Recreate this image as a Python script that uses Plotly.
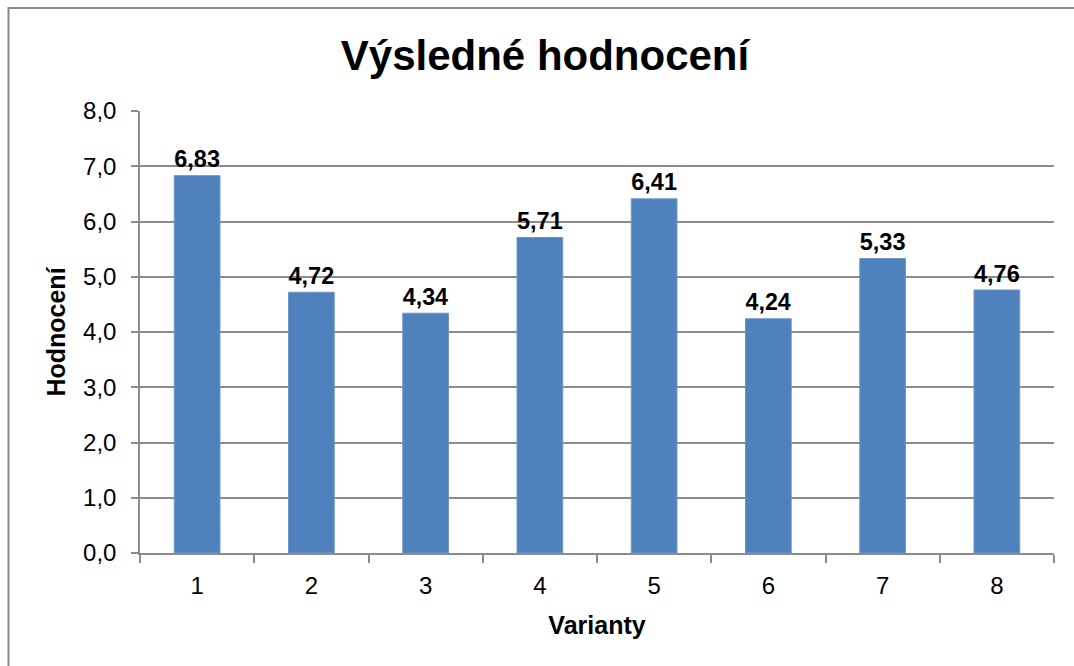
import plotly.graph_objects as go

# Evaluated variants and their final scores
varianty = ["1", "2", "3", "4", "5", "6", "7", "8"]
hodnoceni = [6.83, 4.72, 4.34, 5.71, 6.41, 4.24, 5.33, 4.76]
y_ticks = [0, 1, 2, 3, 4, 5, 6, 7, 8]
y_tick_labels = ["0,0", "1,0", "2,0", "3,0", "4,0", "5,0", "6,0", "7,0", "8,0"]

W, H = 1074, 666
L, R, T, B = 140, 20, 110.5, 113
pw, ph = W - L - R, H - T - B

font = "Liberation Sans, Arial, sans-serif"
grid = "#8c8c8c"

fig = go.Figure(
    go.Bar(
        x=varianty,
        y=hodnoceni,
        width=0.4,
        marker=dict(color="#4f81bd", line=dict(color="#6f95c8", width=1)),
        text=[f"{v:.2f}".replace(".", ",") for v in hodnoceni],
        textposition="outside",
        cliponaxis=False,
        textfont=dict(family=font, size=26, color="black", weight="bold"),
    )
)

fig.update_layout(
    width=W,
    height=H,
    margin=dict(l=L, r=R, t=T, b=B),
    paper_bgcolor="white",
    plot_bgcolor="white",
    showlegend=False,
    font=dict(family=font, color="black"),
    title=dict(
        text="<b>Výsledné hodnocení</b>",
        font=dict(family=font, size=42, color="black"),
        x=545 / W,
        xanchor="center",
        y=1 - 55 / H,
        yanchor="middle",
    ),
    uniformtext=dict(mode=False),
)

fig.update_xaxes(
    type="category",
    showgrid=False,
    showline=True,
    linecolor=grid,
    linewidth=1.5,
    ticks="outside",
    tickson="boundaries",
    ticklen=8,
    tickcolor=grid,
    tickwidth=1.5,
    ticklabelstandoff=10,
    tickfont=dict(family=font, size=24, color="black"),
    title=dict(text="<b>Varianty</b>", font=dict(family=font, size=25, color="black"), standoff=19),
)

fig.update_yaxes(
    range=[0, 8],
    tickvals=y_ticks,
    ticktext=y_tick_labels,
    showgrid=True,
    gridcolor=grid,
    gridwidth=1.5,
    showline=True,
    linecolor=grid,
    linewidth=1.5,
    ticks="outside",
    ticklen=7,
    tickcolor=grid,
    tickwidth=1.5,
    ticklabelstandoff=10,
    zeroline=False,
    tickfont=dict(family=font, size=24, color="black"),
    title=dict(text="<b>Hodnocení</b>", font=dict(family=font, size=25, color="black"), standoff=10),
)

# Outer chart frame
fig.add_shape(
    type="rect",
    xref="paper",
    yref="paper",
    x0=(8.5 - L) / pw,
    x1=(1085 - L) / pw,
    y0=(H - B - 680) / ph,
    y1=(H - B - 7.5) / ph,
    line=dict(color="#8a8a8a", width=2),
    fillcolor="rgba(0,0,0,0)",
    layer="below",
)

fig.write_html("out.html")
